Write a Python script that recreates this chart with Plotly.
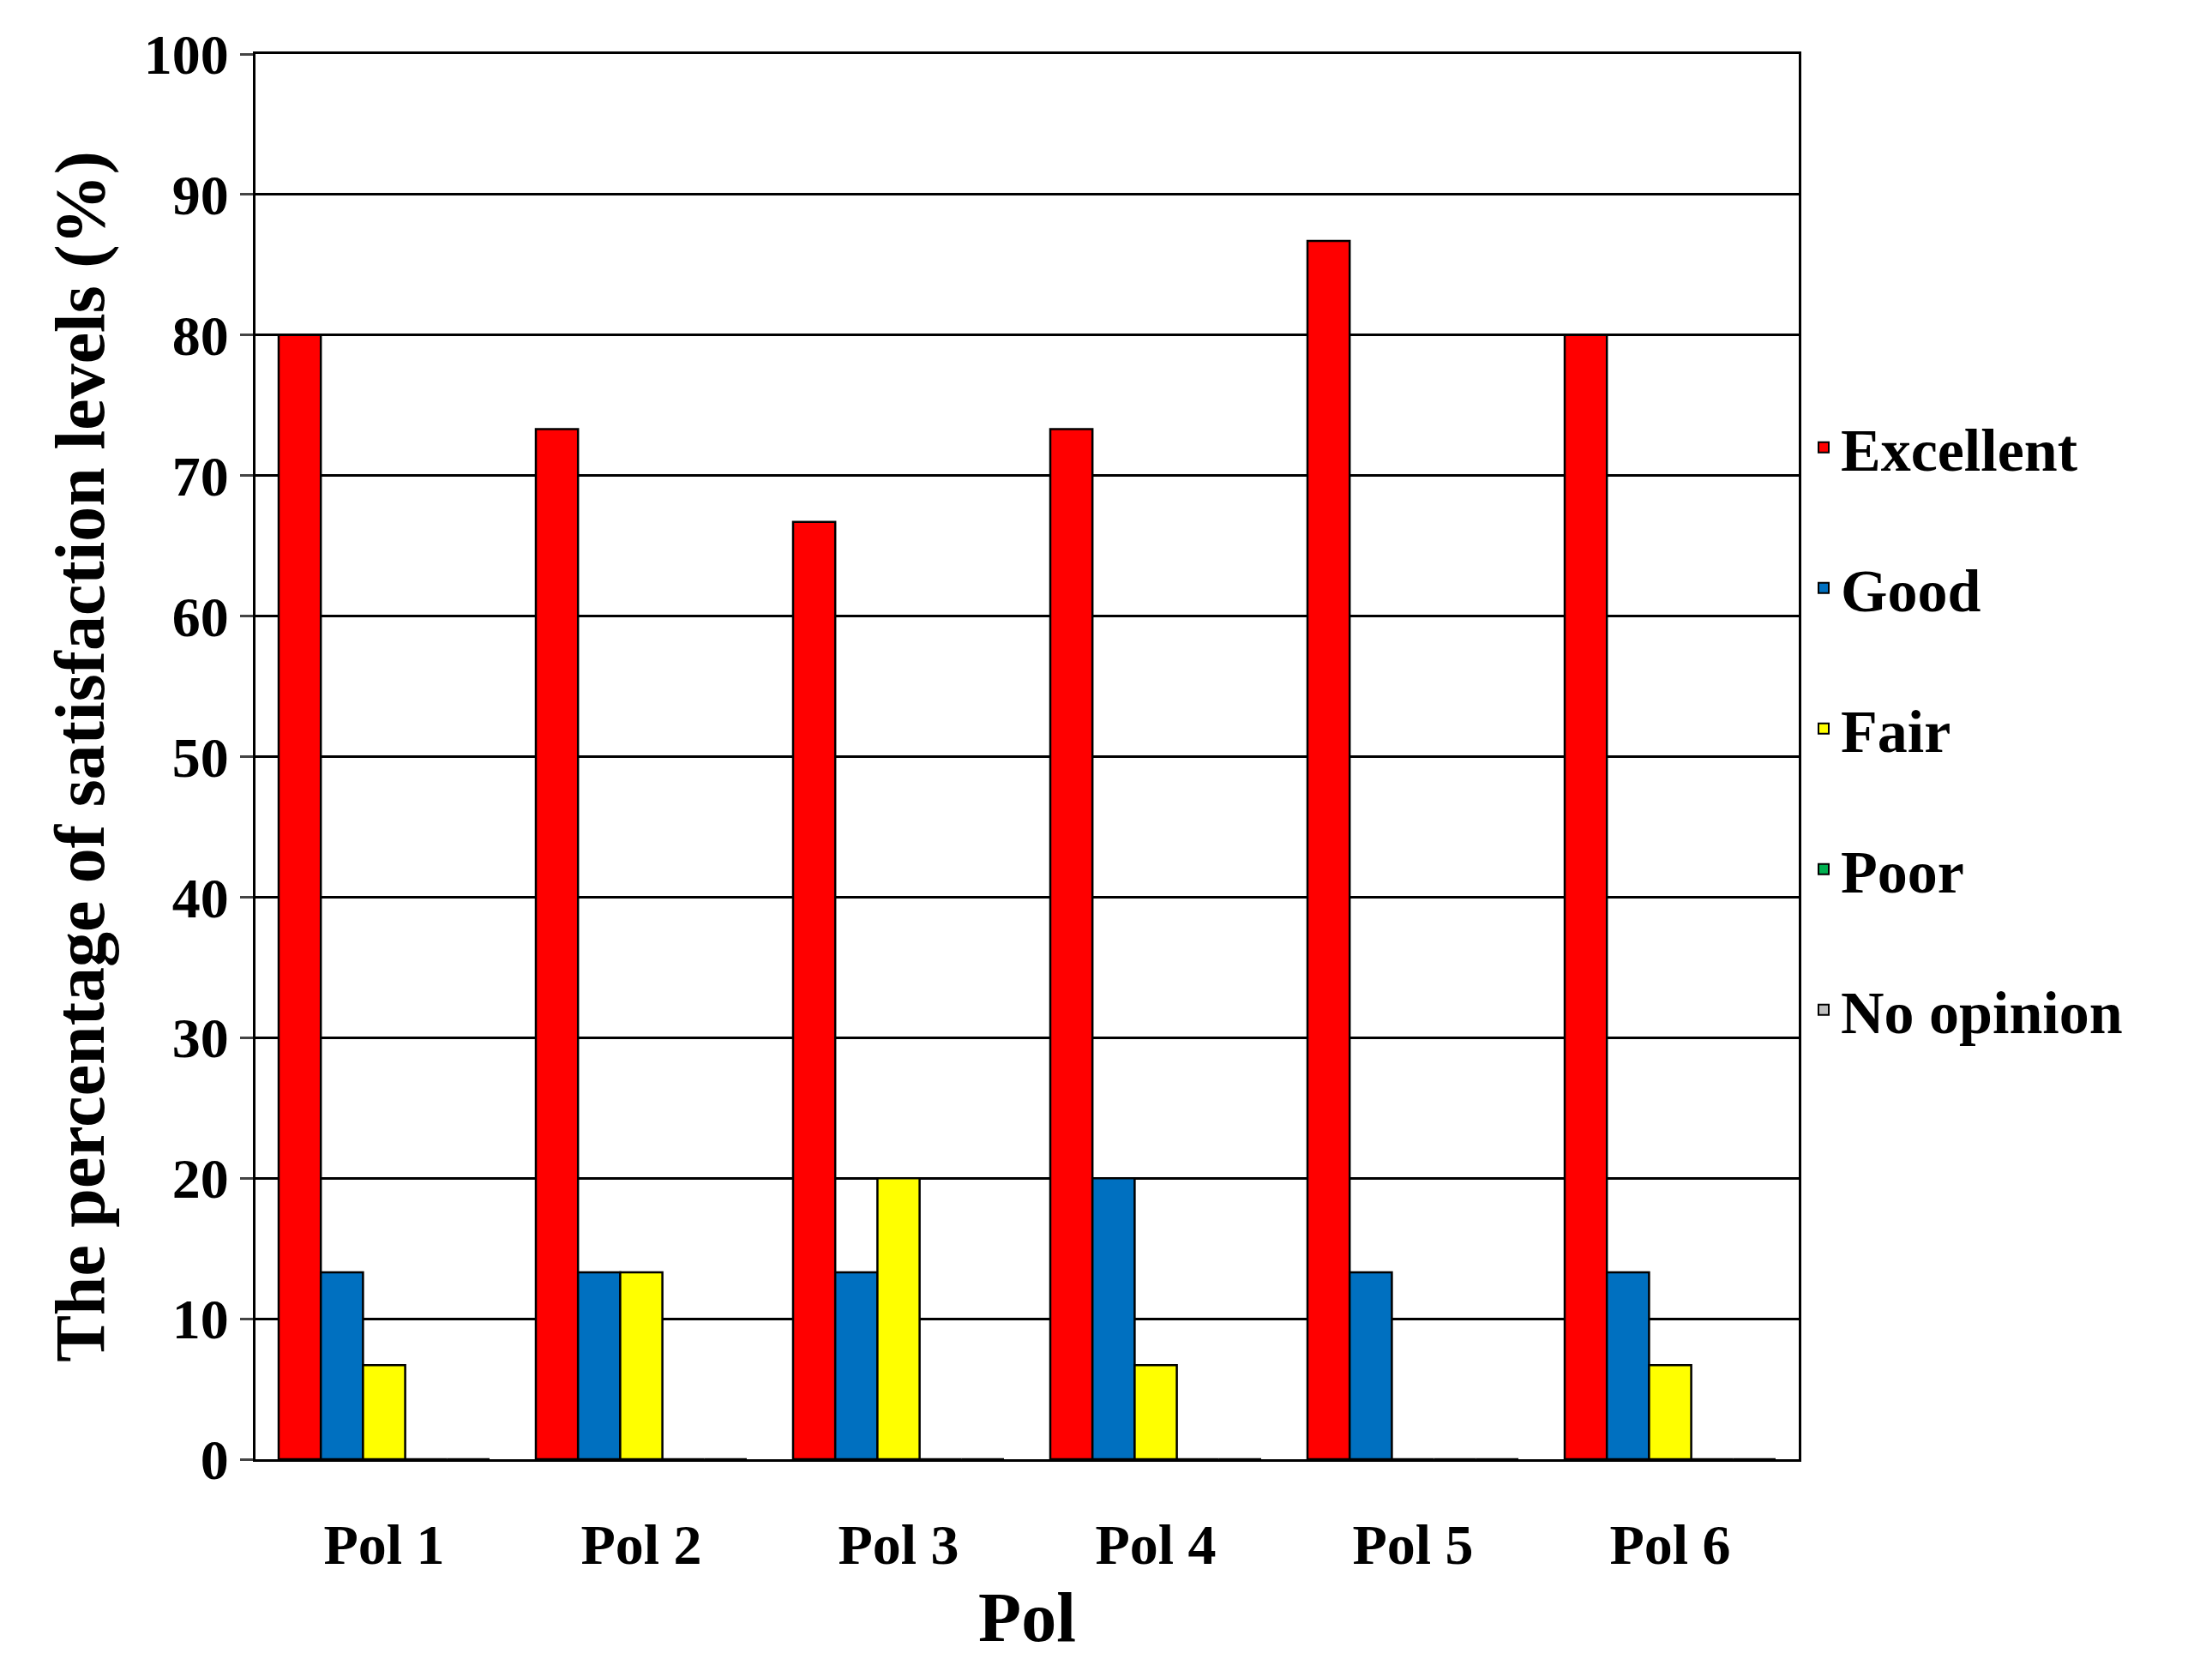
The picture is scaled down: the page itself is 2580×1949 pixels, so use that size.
import plotly.graph_objects as go

categories = ["Pol 1", "Pol 2", "Pol 3", "Pol 4", "Pol 5", "Pol 6"]
excellent = [80, 73.3, 66.7, 73.3, 86.7, 80]
good = [13.3, 13.3, 13.3, 20, 13.3, 13.3]
fair = [6.7, 13.3, 20, 6.7, 0, 6.7]
poor = [0, 0, 0, 0, 0, 0]
no_opinion = [0, 0, 0, 0, 0, 0]

series = [("Excellent", excellent, "#FF0000"), ("Good", good, "#0070C0"),
          ("Fair", fair, "#FFFF00"), ("Poor", poor, "#00B050"),
          ("No opinion", no_opinion, "#BFBFBF")]

font = "Liberation Serif"
fig = go.Figure()
for name, vals, col in series:
    fig.add_bar(x=categories, y=vals, name=f"<b>{name}</b>", marker_color=col,
                legendgroup=name,
                marker_line=dict(color="black", width=2.5))

fig.update_layout(
    width=2580, height=1949, barmode="group", bargap=0.18, bargroupgap=0,
    plot_bgcolor="white", paper_bgcolor="white",
    margin=dict(l=290, r=490, t=55, b=255),
    font=dict(family=font, size=66, color="black"),
    legend=dict(x=1.005, y=0.52, yanchor="middle", font=dict(size=70, family=font),
                tracegroupgap=70, itemsizing="constant", traceorder="grouped"),
    xaxis=dict(title=dict(text="<b>Pol</b>", font=dict(size=82), standoff=20),
               tickfont=dict(size=66), ticklabelstandoff=40,
               showline=True, linecolor="black", linewidth=3, mirror=True),
    yaxis=dict(title=dict(text="<b>The percentage of satisfaction levels (%)</b>",
                          font=dict(size=82), standoff=20),
               range=[0, 100], tickfont=dict(size=66),
               showgrid=True, gridcolor="black", gridwidth=3,
               showline=True, linecolor="black", linewidth=3,
               ticks="outside", ticklen=15, tickwidth=3, zeroline=False, mirror=True,
               tickvals=list(range(0, 101, 10)),
               ticktext=[f"<b>{v}</b>" for v in range(0, 101, 10)]),
)
fig.update_xaxes(tickvals=categories, ticktext=[f"<b>{c}</b>" for c in categories])
fig.write_html("out.html")
